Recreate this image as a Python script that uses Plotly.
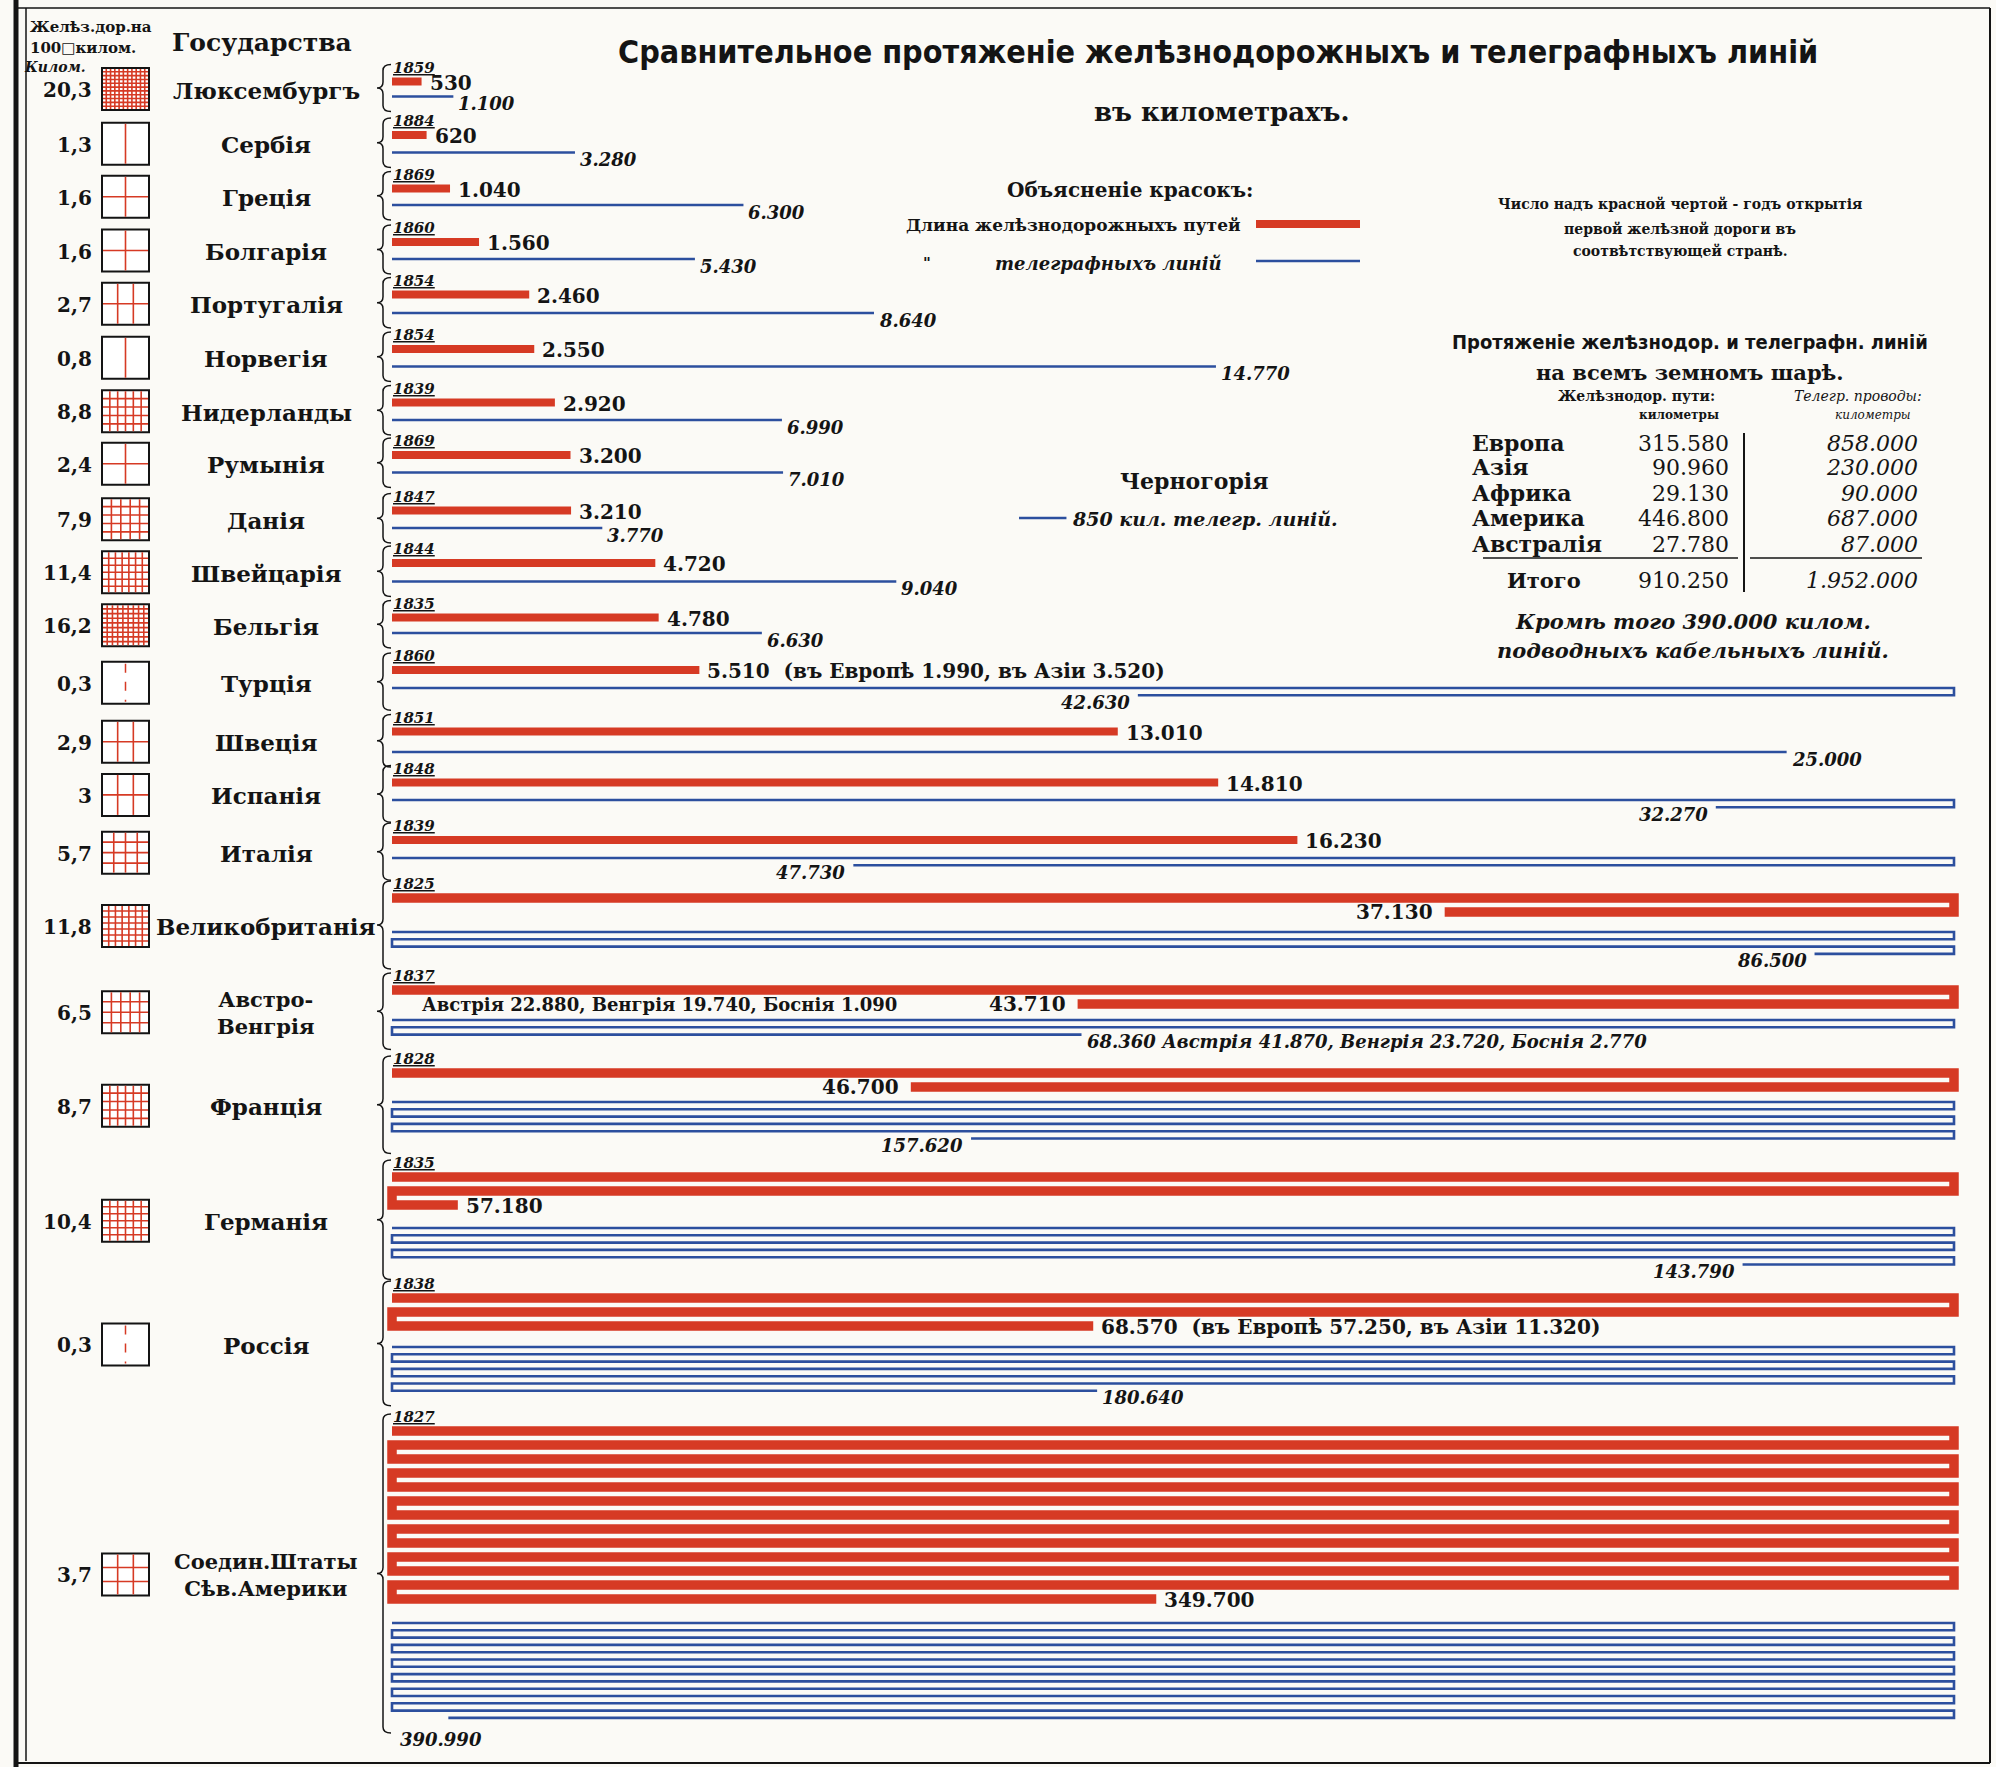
import math
import plotly.graph_objects as go

# ---------------- data ----------------
countries = ["Люксембургъ", "Сербiя", "Грецiя", "Болгарiя", "Португалiя", "Норвегiя",
             "Нидерланды", "Румынiя", "Данiя", "Швейцарiя", "Бельгiя", "Турцiя",
             "Швецiя", "Испанiя", "Италiя", "Великобританiя", "Австро-<br>Венгрiя",
             "Францiя", "Германiя", "Россiя", "Соедин.Штаты<br>Сѣв.Америки"]
density = [20.3, 1.3, 1.6, 1.6, 2.7, 0.8, 8.8, 2.4, 7.9, 11.4, 16.2, 0.3,
           2.9, 3.0, 5.7, 11.8, 6.5, 8.7, 10.4, 0.3, 3.7]
density_labels = ["20,3", "1,3", "1,6", "1,6", "2,7", "0,8", "8,8", "2,4", "7,9", "11,4",
                  "16,2", "0,3", "2,9", "3", "5,7", "11,8", "6,5", "8,7", "10,4", "0,3", "3,7"]
first_railway_year = [1859, 1884, 1869, 1860, 1854, 1854, 1839, 1869, 1847, 1844, 1835,
                      1860, 1851, 1848, 1839, 1825, 1837, 1828, 1835, 1838, 1827]
railway_km = [530, 620, 1040, 1560, 2460, 2550, 2920, 3200, 3210, 4720, 4780, 5510,
              13010, 14810, 16230, 37130, 43710, 46700, 57180, 68570, 349700]
telegraph_km = [1100, 3280, 6300, 5430, 8640, 14770, 6990, 7010, 3770, 9040, 6630, 42630,
                25000, 32270, 47730, 86500, 68360, 157620, 143790, 180640, 390990]
railway_suffix = {11: "  (въ Европѣ 1.990, въ Азiи 3.520)",
                  19: "  (въ Европѣ 57.250, въ Азiи 11.320)"}
railway_prefix_note = {16: "Австрiя 22.880, Венгрiя 19.740, Боснiя 1.090"}
telegraph_suffix = {16: " Австрiя 41.870, Венгрiя 23.720, Боснiя 2.770"}

continents = ["Европа", "Азiя", "Африка", "Америка", "Австралiя"]
continent_railway_km = [315580, 90960, 29130, 446800, 27780]
continent_telegraph_km = [858000, 230000, 90000, 687000, 87000]
world_railway_total = 910250
world_telegraph_total = 1952000
submarine_cable_km = 390000
montenegro_telegraph_km = 850

# ---------------- layout constants (pixels) ----------------
W_FIG, H_FIG = 1996, 1767
X0_PX, X1_PX = 392, 1954          # pixel span of one full lane
LANE_KM = 28000                   # km represented by one full lane
RAIL_GAP, TEL_GAP = 14.0, 7.3     # spacing between serpentine lanes
rail_y0 = [81.5, 135, 188.5, 242, 294.5, 349, 402.5, 455, 510.5, 563, 617.5, 670,
           731.5, 782.5, 840, 898, 990, 1073, 1177, 1298, 1431]
tel_y0 = [96.5, 152.5, 205, 259, 313, 366.5, 420, 472.5, 528, 581.5, 633, 688,
          752, 800, 858, 932, 1020, 1102, 1228, 1347, 1623]

RED = "#d63a24"
BLUE = "#2c4f9e"
INK = "#141414"
SERIF = "DejaVu Serif"
NARROW = "Liberation Sans Narrow, DejaVu Sans Condensed, Roboto Condensed, Arial Narrow, Roboto, sans-serif"
BG = "#fbfaf6"

s = (X1_PX - X0_PX) / LANE_KM
x_range = [-X0_PX / s, (W_FIG - X0_PX) / s]


def fmt(v):
    return f"{v:,}".replace(",", ".")


def serpentine(v, y0, dy):
    xs, ys = [], []
    n = math.ceil(v / LANE_KM)
    for i in range(n):
        seg = min(LANE_KM, v - i * LANE_KM)
        y = y0 + i * dy
        if i % 2 == 0:
            a, b = 0, seg
        else:
            a, b = LANE_KM, LANE_KM - seg
        xs += [a, b]
        ys += [y, y]
    return xs, ys, b, ys[-1], (n - 1) % 2 == 0, n


fig = go.Figure()
ann = []
shapes = []


def text(x, y, t, size, xanchor="center", yanchor="middle", weight="normal", style="normal",
         family=SERIF, color=INK, xref="x2", xshift=0, yshift=0):
    ann.append(dict(x=x, y=y, text=t, xref=xref, yref="y", showarrow=False,
                    xanchor=xanchor, yanchor=yanchor, xshift=xshift, yshift=yshift,
                    font=dict(family=family, size=size, color=color, weight=weight, style=style)))


def line(x0, y0, x1, y1, color=INK, width=1.5, dash="solid", xref="x2"):
    shapes.append(dict(type="line", x0=x0, y0=y0, x1=x1, y1=y1, xref=xref, yref="y",
                       line=dict(color=color, width=width, dash=dash)))


for i, c in enumerate(countries):
    # railway serpentine
    rx, ry, rend, rylast, rdir, rn = serpentine(railway_km[i], rail_y0[i], RAIL_GAP)
    fig.add_trace(go.Scatter(x=rx, y=ry, mode="lines", line=dict(color=RED, width=9.5 if rn > 1 else 8),
                             hoverinfo="skip", showlegend=False))
    # telegraph serpentine
    tx, ty, tend, tylast, tdir, tn = serpentine(telegraph_km[i], tel_y0[i], TEL_GAP)
    fig.add_trace(go.Scatter(x=tx, y=ty, mode="lines", line=dict(color=BLUE, width=2.6),
                             hoverinfo="skip", showlegend=False))

    # railway label
    rlab = fmt(railway_km[i]) + railway_suffix.get(i, "")
    if rdir:
        text(rend, rylast + 1, rlab, 20, xanchor="left", weight="bold", xref="x", xshift=6)
    else:
        text(rend, rylast, rlab, 20, xanchor="right", weight="bold", xref="x", xshift=-10)
    if i in railway_prefix_note:
        text(500, rylast, railway_prefix_note[i], 18, xanchor="left", weight="bold", xref="x")

    # telegraph label
    tlab = fmt(telegraph_km[i]) + telegraph_suffix.get(i, "")
    if tn > 1 and not tdir and tend < 3000:
        text(0, tylast + 22, tlab, 18, xanchor="left", style="italic", weight="bold", xref="x", xshift=6)
    elif tdir:
        text(tend, tylast + 7, tlab, 18, xanchor="left", style="italic", weight="bold", xref="x", xshift=3)
    else:
        text(tend, tylast + 7, tlab, 18, xanchor="right", style="italic", weight="bold", xref="x", xshift=-6)

    # year of first railway
    text(X0_PX - 1, rail_y0[i] - 14, "<u>%d</u>" % first_railway_year[i], 15, xanchor="left",
         style="italic", weight="bold")

    # brace
    top = rail_y0[i] - 17
    bot = tylast + 15
    mid = (top + bot) / 2
    bx = 383
    r = 6
    shapes.append(dict(type="path", xref="x2", yref="y",
                       path=(f"M {bx+8},{top} Q {bx},{top} {bx},{top+r} L {bx},{mid-r} "
                             f"Q {bx},{mid} {bx-6},{mid} Q {bx},{mid} {bx},{mid+r} "
                             f"L {bx},{bot-r} Q {bx},{bot} {bx+8},{bot}"),
                       line=dict(color=INK, width=1.5)))

    # left column: density, square, name
    ny = (rail_y0[i] + tylast) / 2
    text(94, ny + 1, density_labels[i], 20, xanchor="right", weight="bold")
    sx0, sx1 = 102, 149
    sy0, sy1 = ny - 21, ny + 21
    shapes.append(dict(type="rect", x0=sx0, x1=sx1, y0=sy0, y1=sy1, xref="x2", yref="y",
                       line=dict(color=INK, width=2), fillcolor="white"))
    d = density[i]
    nlines = math.floor(d + 0.5)
    if nlines == 0:
        line((sx0 + sx1) / 2, sy0 + 2, (sx0 + sx1) / 2, sy1 - 2, color=RED, width=1.5, dash="dash")
    else:
        nv = math.ceil(nlines / 2)
        nh = nlines // 2
        for k in range(nv):
            xx = sx0 + (sx1 - sx0) * (k + 1) / (nv + 1)
            line(xx, sy0 + 1, xx, sy1 - 1, color=RED, width=1.6)
        for k in range(nh):
            yy = sy0 + (sy1 - sy0) * (k + 1) / (nh + 1)
            line(sx0 + 1, yy, sx1 - 1, yy, color=RED, width=1.6)
    text(266, ny + 1, c, 23 if "<br>" not in c else 21, weight="bold")

# ---------------- header / titles ----------------
text(28, 27, "Желѣз.дор.на", 15, xanchor="left", weight="bold")
text(28, 48, "100□килом.", 15, xanchor="left", weight="bold")
text(22, 67, "Килом.", 14, xanchor="left", style="italic", weight="bold")
text(262, 42, "Государства", 25, weight="bold")

text(1218, 52, "Сравнительное протяженiе желѣзнодорожныхъ и телеграфныхъ линiй", 32,
     weight="bold", family=NARROW)
text(1222, 112, "въ километрахъ.", 26, weight="bold")

# legend
text(1130, 190, "Объясненiе красокъ:", 20, weight="bold")
text(1243, 225, "Длина желѣзнодорожныхъ путей", 17, xanchor="right", weight="bold")
line(1256, 224, 1360, 224, color=RED, width=8)
text(927, 263, "\"", 15, style="italic", weight="bold")
text(1108, 263, "телеграфныхъ линiй", 18, style="italic", weight="bold")
line(1256, 261, 1360, 261, color=BLUE, width=2.6)

# note
text(1680, 204, "Число надъ красной чертой - годъ открытiя", 14, weight="bold")
text(1680, 229, "первой желѣзной дороги въ", 14, weight="bold")
text(1680, 251, "соотвѣтствующей странѣ.", 14, weight="bold")

# Montenegro
text(1194, 481, "Черногорiя", 22, weight="bold")
mx0 = 11240
fig.add_trace(go.Scatter(x=[mx0, mx0 + montenegro_telegraph_km], y=[518, 518], mode="lines",
                         line=dict(color=BLUE, width=2.6), hoverinfo="skip", showlegend=False))
text(mx0 + montenegro_telegraph_km, 519, "%d кил. телегр. линiй." % montenegro_telegraph_km, 19,
     xanchor="left", style="italic", weight="bold", xref="x", xshift=4)

# world table
text(1690, 342, "Протяженiе желѣзнодор. и телеграфн. линiй", 20, weight="bold", family=NARROW)
text(1690, 372, "на всемъ земномъ шарѣ.", 21, weight="bold")
text(1636, 396, "Желѣзнодор. пути:", 14, weight="bold")
text(1679, 415, "километры", 12, weight="bold")
text(1858, 396, "Телегр. проводы:", 14, style="italic")
text(1873, 415, "километры", 12, style="italic")
row_y = [443, 467, 493, 518, 544]
for k, cname in enumerate(continents):
    text(1470, row_y[k], cname, 22, xanchor="left", weight="bold")
    text(1731, row_y[k], fmt(continent_railway_km[k]), 22, xanchor="right")
    text(1920, row_y[k], fmt(continent_telegraph_km[k]), 22, xanchor="right", style="italic")
line(1744, 433, 1744, 592, width=2)
line(1483, 558, 1738, 558, width=1.5)
line(1750, 558, 1922, 558, width=1.5)
text(1544, 580, "Итого", 21, weight="bold")
text(1731, 580, fmt(world_railway_total), 22, xanchor="right")
text(1920, 580, fmt(world_telegraph_total), 22, xanchor="right", style="italic")
text(1693, 621, "Кромѣ того %s килом." % fmt(submarine_cable_km), 21, style="italic", weight="bold")
text(1693, 650, "подводныхъ кабельныхъ линiй.", 21, style="italic", weight="bold")

# frame
line(16, 0, 16, H_FIG, width=5)
line(26, 8, 26, H_FIG - 6, width=1.5)
line(16, 8, 1990, 8, width=1.5)
line(1990, 8, 1990, H_FIG - 4, width=2)
line(16, H_FIG - 4, 1990, H_FIG - 4, width=2)

fig.update_layout(
    width=W_FIG, height=H_FIG, autosize=False,
    margin=dict(l=0, r=0, t=0, b=0),
    paper_bgcolor=BG, plot_bgcolor=BG,
    xaxis=dict(range=x_range, domain=[0, 1], visible=False, fixedrange=True),
    xaxis2=dict(range=[0, W_FIG], overlaying="x", anchor="y", visible=False, fixedrange=True),
    yaxis=dict(range=[H_FIG, 0], domain=[0, 1], visible=False, fixedrange=True),
    annotations=ann, shapes=shapes, showlegend=False,
)

fig.write_html("out.html", post_script="document.body.style.margin='0';",
               config={"displayModeBar": False})
